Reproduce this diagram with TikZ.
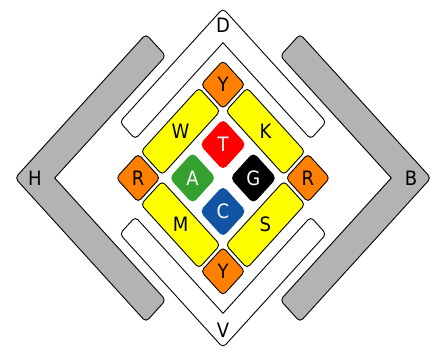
\documentclass[tikz,border=0pt]{standalone}
\usepackage{fontspec}
\setmainfont{DejaVu Sans}
\definecolor{tileorange}{RGB}{255,128,0}
\definecolor{tileyellow}{RGB}{255,255,0}
\definecolor{tilered}{RGB}{255,0,0}
\definecolor{tilegreen}{RGB}{52,160,48}
\definecolor{tileblue}{RGB}{18,84,164}
\definecolor{bargray}{RGB}{179,179,179}
\tikzset{
  tile/.style={draw=black, line width=0.9pt, rounded corners=4pt},
  core/.style={rounded corners=5pt},
  chev/.style={draw=black, line width=0.9pt, rounded corners=4pt},
  lbl/.style={transform shape, inner sep=0pt, font=\fontsize{18}{18}\selectfont},
  wlbl/.style={lbl, text=white}
}
\begin{document}
\begin{tikzpicture}[x=1pt,y=1pt]
\useasboundingbox (0,0) rectangle (432,352);
\fill[white] (0,0) rectangle (432,352);
\begin{scope}[shift={(223,174)}, yscale=1.1]
\begin{scope}[rotate=45]
  % gray chevrons
  \draw[chev, fill=bargray] (38,147) -- (-147,147) -- (-147,-38) -- (-119,-38) [sharp corners] -- (-119,119) [rounded corners=4pt] -- (38,119) -- cycle;
  \draw[chev, fill=bargray] (-38,-147) -- (147,-147) -- (147,38) -- (119,38) [sharp corners] -- (119,-119) [rounded corners=4pt] -- (-38,-119) -- cycle;
  % white chevrons
  \draw[chev, fill=white] (-37,109) -- (109,109) -- (109,-37) -- (87,-37) [sharp corners] -- (87,87) [rounded corners=4pt] -- (-37,87) -- cycle;
  \draw[chev, fill=white] (37,-109) -- (-109,-109) -- (-109,37) -- (-87,37) [sharp corners] -- (-87,-87) [rounded corners=4pt] -- (37,-87) -- cycle;
  % yellow tiles
  \draw[tile, fill=tileyellow] (-41,45) rectangle (41,75);
  \draw[tile, fill=tileyellow] (45,-41) rectangle (75,41);
  \draw[tile, fill=tileyellow] (-75,-41) rectangle (-45,41);
  \draw[tile, fill=tileyellow] (-41,-75) rectangle (41,-45);
  % orange tiles
  \draw[tile, fill=tileorange] (44.5,44.5) rectangle (75.5,75.5);
  \draw[tile, fill=tileorange] (44.5,-75.5) rectangle (75.5,-44.5);
  \draw[tile, fill=tileorange] (-75.5,-75.5) rectangle (-44.5,-44.5);
  \draw[tile, fill=tileorange] (-75.5,44.5) rectangle (-44.5,75.5);
  % core squares
  \fill[core, tilered] (5,5) rectangle (38,38);
  \fill[core, black] (5,-38) rectangle (38,-5);
  \fill[core, tileblue] (-38,-38) rectangle (-5,-5);
  \fill[core, tilegreen] (-38,5) rectangle (-5,38);
  % label positions
  \coordinate (pD) at (98,98);
  \coordinate (pV) at (-98,-98);
  \coordinate (pH) at (-133,133);
  \coordinate (pB) at (133,-133);
  \coordinate (pW) at (0,60);
  \coordinate (pK) at (60,0);
  \coordinate (pM) at (-60,0);
  \coordinate (pS) at (0,-60);
  \coordinate (pYt) at (60,60);
  \coordinate (pYb) at (-60,-60);
  \coordinate (pRl) at (-60,60);
  \coordinate (pRr) at (60,-60);
  \coordinate (pT) at (21.5,21.5);
  \coordinate (pG) at (21.5,-21.5);
  \coordinate (pC) at (-21.5,-21.5);
  \coordinate (pA) at (-21.5,21.5);
\end{scope}
\node[lbl] (lD) at (pD) {D};
\node[lbl] (lV) at (pV) {V};
\node[lbl] (lH) at (pH) {H};
\node[lbl] (lB) at (pB) {B};
\node[lbl] (lW) at (pW) {W};
\node[lbl] (lK) at (pK) {K};
\node[lbl] (lM) at (pM) {M};
\node[lbl] (lS) at (pS) {S};
\node[lbl] (lYt) at (pYt) {Y};
\node[lbl] (lYb) at (pYb) {Y};
\node[lbl] (lRl) at (pRl) {R};
\node[lbl] (lRr) at (pRr) {R};
\node[wlbl] (lT) at (pT) {T};
\node[wlbl] (lG) at (pG) {G};
\node[wlbl] (lC) at (pC) {C};
\node[wlbl] (lA) at (pA) {A};
\end{scope}
\end{tikzpicture}
\end{document}
